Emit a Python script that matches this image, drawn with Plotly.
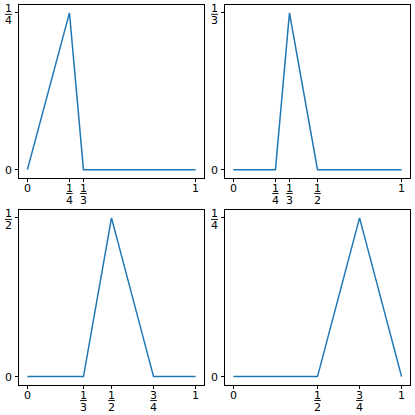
import plotly.graph_objects as go
from fractions import Fraction

# ---- data (hat basis functions) ----
tl_x = [0, 1/4, 1/3, 1]
tl_y = [0, 1/4, 0, 0]
tl_xticks = ["0", "1/4", "1/3", "1"]
tl_yticks = ["0", "1/4"]

tr_x = [0, 1/4, 1/3, 1/2, 1]
tr_y = [0, 0, 1/3, 0, 0]
tr_xticks = ["0", "1/4", "1/3", "1/2", "1"]
tr_yticks = ["0", "1/3"]

bl_x = [0, 1/3, 1/2, 3/4, 1]
bl_y = [0, 0, 1/2, 0, 0]
bl_xticks = ["0", "1/3", "1/2", "3/4", "1"]
bl_yticks = ["0", "1/2"]

br_x = [0, 1/2, 3/4, 1]
br_y = [0, 0, 1/4, 0]
br_xticks = ["0", "1/2", "3/4", "1"]
br_yticks = ["0", "1/4"]

W = H = 415
FONT = dict(family="DejaVu Sans", size=11, color="black")
LINE_COLOR = "#1f77b4"

# panel pixel boxes (left, right, top, bottom)
boxes = [(19, 204, 5, 177.5), (225, 410, 5, 177.5),
         (19, 204, 210, 384.5), (225, 410, 210, 384.5)]
panels = [(tl_x, tl_y, tl_xticks, tl_yticks),
          (tr_x, tr_y, tr_xticks, tr_yticks),
          (bl_x, bl_y, bl_xticks, bl_yticks),
          (br_x, br_y, br_xticks, br_yticks)]

fig = go.Figure()
annotations = []
shapes = []

def val(s):
    return float(Fraction(s))

def label(text, **kw):
    d = dict(text=text, showarrow=False, font=FONT, borderpad=0,
             yanchor="middle")
    d.update(kw)
    annotations.append(d)

for i, ((xs, ys, xt, yt), (l, r, t, b)) in enumerate(zip(panels, boxes)):
    n = "" if i == 0 else str(i + 1)
    xa, ya = "x" + n, "y" + n
    fig.add_trace(go.Scatter(x=xs, y=ys, mode="lines", xaxis=xa, yaxis=ya,
                             line=dict(color=LINE_COLOR, width=1.5),
                             showlegend=False, hoverinfo="skip"))
    ymax = max(val(s) for s in yt)
    common = dict(showgrid=False, zeroline=False, showline=True, mirror=True,
                  linecolor="black", linewidth=1, ticks="outside", ticklen=3.5,
                  tickwidth=0.8, tickcolor="black", showticklabels=False)
    fig.layout["xaxis" + n] = dict(common, domain=[l / W, r / W], range=[-0.05, 1.05],
                                   tickvals=[val(s) for s in xt], anchor=ya)
    fig.layout["yaxis" + n] = dict(common, domain=[1 - b / H, 1 - t / H],
                                   range=[-0.05 * ymax, 1.05 * ymax],
                                   tickvals=[val(s) for s in yt], anchor=xa)
    # x tick labels
    for s in xt:
        v = val(s)
        xk = dict(x=v, y=0, xref=xa, yref=ya + " domain", xanchor="center")
        if "/" in s:
            num, den = s.split("/")
            label(num, yshift=-11, **xk)
            label(den, yshift=-23, **xk)
            shapes.append(dict(type="line", xref=xa, yref=ya + " domain",
                               xsizemode="pixel", xanchor=v, x0=-3.3, x1=3.3,
                               ysizemode="pixel", yanchor=0, y0=-16, y1=-16,
                               line=dict(color="black", width=0.9)))
        else:
            label(s, yshift=-11, **xk)
    # y tick labels
    for s in yt:
        v = val(s)
        if "/" in s:
            num, den = s.split("/")
            yk = dict(x=0, y=v, xref=xa + " domain", yref=ya, xanchor="center",
                      xshift=-10.5)
            label(num, yshift=4.5, **yk)
            label(den, yshift=-8, **yk)
            shapes.append(dict(type="line", xref=xa + " domain", yref=ya,
                               xsizemode="pixel", xanchor=0, x0=-14, x1=-7,
                               ysizemode="pixel", yanchor=v, y0=-1.5, y1=-1.5,
                               line=dict(color="black", width=0.9)))
        else:
            label(s, x=0, y=v, xref=xa + " domain", yref=ya, xanchor="right",
                  xshift=-6, yshift=-0.5)

fig.update_layout(width=W, height=H, margin=dict(l=0, r=0, t=0, b=0),
                  paper_bgcolor="white", plot_bgcolor="white",
                  annotations=annotations, shapes=shapes, font=FONT)
fig.write_html("out.html", config={"displayModeBar": False},
               post_script="document.body.style.margin='0';"
                           "document.body.style.overflow='hidden';")
